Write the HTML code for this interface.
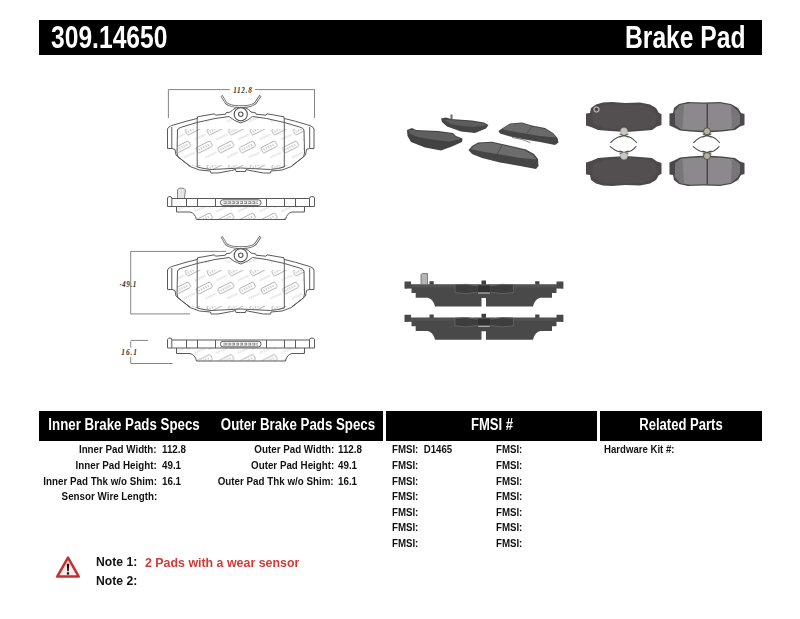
<!DOCTYPE html>
<html><head><meta charset="utf-8">
<style>
html,body{margin:0;padding:0;background:#fff;}
body{width:800px;height:619px;position:relative;overflow:hidden;font-family:"Liberation Sans",sans-serif;}
.t{position:absolute;white-space:nowrap;font-weight:bold;color:#111;}
.bar{position:absolute;background:#000;}
.w{color:#fff;}
.s11{font-size:11.8px;line-height:11.8px;}
.l{transform-origin:left center;}
.r{transform-origin:right center;}
.c{transform-origin:center center;}
svg{position:absolute;left:0;top:0;}
</style></head><body>

<!-- top bar -->
<div class="bar" style="left:39px;top:20px;width:723px;height:35px;"></div>
<div class="t w l" style="left:51px;top:21px;font-size:32px;line-height:32px;transform:scaleX(0.77);">309.14650</div>
<div class="t w r" style="right:54px;top:21px;font-size:32px;line-height:32px;transform:scaleX(0.77);">Brake Pad</div>

<!-- table headers -->
<div class="bar" style="left:39px;top:411px;width:344px;height:30px;"></div>
<div class="bar" style="left:386px;top:411px;width:211px;height:30px;"></div>
<div class="bar" style="left:600px;top:411px;width:162px;height:30px;"></div>
<div class="t w c" style="left:-26px;width:300px;text-align:center;top:416.5px;font-size:16px;line-height:16px;transform:scaleX(0.83);">Inner Brake Pads Specs</div>
<div class="t w c" style="left:148px;width:300px;text-align:center;top:416.5px;font-size:16px;line-height:16px;transform:scaleX(0.83);">Outer Brake Pads Specs</div>
<div class="t w c" style="left:342px;width:300px;text-align:center;top:416.5px;font-size:16px;line-height:16px;transform:scaleX(0.815);">FMSI #</div>
<div class="t w c" style="left:531px;width:300px;text-align:center;top:416.5px;font-size:16px;line-height:16px;transform:scaleX(0.815);">Related Parts</div>

<!-- inner specs -->
<div class="t s11 r" style="right:643px;top:444.11px;transform:scaleX(0.830);">Inner Pad Width:</div>
<div class="t s11 r" style="right:643px;top:459.91px;transform:scaleX(0.830);">Inner Pad Height:</div>
<div class="t s11 r" style="right:643px;top:475.61px;transform:scaleX(0.830);">Inner Pad Thk w/o Shim:</div>
<div class="t s11 r" style="right:643px;top:491.41px;transform:scaleX(0.830);">Sensor Wire Length:</div>
<div class="t s11 l" style="left:162px;top:444.11px;transform:scaleX(0.830);">112.8</div>
<div class="t s11 l" style="left:162px;top:459.91px;transform:scaleX(0.830);">49.1</div>
<div class="t s11 l" style="left:162px;top:475.61px;transform:scaleX(0.830);">16.1</div>
<!-- outer specs -->
<div class="t s11 r" style="right:466px;top:444.11px;transform:scaleX(0.830);">Outer Pad Width:</div>
<div class="t s11 r" style="right:466px;top:459.91px;transform:scaleX(0.830);">Outer Pad Height:</div>
<div class="t s11 r" style="right:466px;top:475.61px;transform:scaleX(0.830);">Outer Pad Thk w/o Shim:</div>
<div class="t s11 l" style="left:338px;top:444.11px;transform:scaleX(0.830);">112.8</div>
<div class="t s11 l" style="left:338px;top:459.91px;transform:scaleX(0.830);">49.1</div>
<div class="t s11 l" style="left:338px;top:475.61px;transform:scaleX(0.830);">16.1</div>
<!-- FMSI -->
<div class="t s11 l" style="left:392px;top:444.11px;transform:scaleX(0.820);">FMSI:&nbsp; D1465</div>
<div class="t s11 l" style="left:392px;top:459.91px;transform:scaleX(0.820);">FMSI:</div>
<div class="t s11 l" style="left:392px;top:475.61px;transform:scaleX(0.820);">FMSI:</div>
<div class="t s11 l" style="left:392px;top:491.41px;transform:scaleX(0.820);">FMSI:</div>
<div class="t s11 l" style="left:392px;top:506.81px;transform:scaleX(0.820);">FMSI:</div>
<div class="t s11 l" style="left:392px;top:522.31px;transform:scaleX(0.820);">FMSI:</div>
<div class="t s11 l" style="left:392px;top:538.01px;transform:scaleX(0.820);">FMSI:</div>
<div class="t s11 l" style="left:496px;top:444.11px;transform:scaleX(0.820);">FMSI:</div>
<div class="t s11 l" style="left:496px;top:459.91px;transform:scaleX(0.820);">FMSI:</div>
<div class="t s11 l" style="left:496px;top:475.61px;transform:scaleX(0.820);">FMSI:</div>
<div class="t s11 l" style="left:496px;top:491.41px;transform:scaleX(0.820);">FMSI:</div>
<div class="t s11 l" style="left:496px;top:506.81px;transform:scaleX(0.820);">FMSI:</div>
<div class="t s11 l" style="left:496px;top:522.31px;transform:scaleX(0.820);">FMSI:</div>
<div class="t s11 l" style="left:496px;top:538.01px;transform:scaleX(0.820);">FMSI:</div>
<!-- related -->
<div class="t s11 l" style="left:604px;top:444.11px;transform:scaleX(0.815);">Hardware Kit #:</div>

<!-- notes -->
<svg width="800" height="619" style="left:0;top:0">
  <polygon points="68,557.6 57.2,576.6 78.8,576.6" fill="#fbeaea" stroke="#c3302d" stroke-width="2.5" stroke-linejoin="round"/>
  <path d="M66.7,563.8 L69.3,563.8 L68.7,571.3 L67.3,571.3 Z" fill="#111"/>
  <rect x="66.9" y="572.3" width="2.2" height="2.3" fill="#111"/>
</svg>
<div class="t l" style="left:95.6px;top:555.3px;font-size:13.5px;line-height:13.5px;transform:scaleX(0.9);">Note 1:</div>
<div class="t l" style="left:95.6px;top:573.8px;font-size:13.5px;line-height:13.5px;transform:scaleX(0.9);">Note 2:</div>
<div class="t l" style="left:144.6px;top:556.3px;font-size:13.5px;line-height:13.5px;color:#d03936;transform:scaleX(0.918);">2 Pads with a wear sensor</div>

<!-- DRAWINGS -->
<svg width="800" height="619" viewBox="0 0 800 619">
<defs>
  <clipPath id="fric">
    <path d="M177.5,130 Q178,128 182,127 L197,122.5 L229,116.5 L234,121.5 Q240.75,125 247.5,121.5 L252.5,116.5 L284.5,122.5 L299.5,127 Q303.5,128 304,130 L304.5,151 Q304,156 296,164 L283,168.5 L270.5,169.5 L240.75,168.5 L211,169.5 L198.5,168.5 L185.5,164 Q177.5,156 177,151 Z"/>
  </clipPath>
  <pattern id="wmp" patternUnits="userSpaceOnUse" x="204" y="129" width="21.6" height="36">
    <g fill="none" stroke="#a9a9a9" stroke-width="0.8">
      <g transform="translate(11,0) rotate(-27)"><rect x="-8" y="-3" width="16" height="6" rx="1.2"/><path d="M-5.5,-1.2 L-5.5,1.2 M-3,-1.2 L-3,1.2 M-0.5,-1.2 L-0.5,1.2 M2,-1.2 L2,1.2 M4.5,-1.2 L4.5,1.2" stroke-width="1.1" stroke="#c4c4c4"/></g>
      <g transform="translate(0.2,18) rotate(-27)"><rect x="-8" y="-3" width="16" height="6" rx="1.2"/><path d="M-5.5,-1.2 L-5.5,1.2 M-3,-1.2 L-3,1.2 M-0.5,-1.2 L-0.5,1.2 M2,-1.2 L2,1.2 M4.5,-1.2 L4.5,1.2" stroke-width="1.1" stroke="#c4c4c4"/></g>
      <g transform="translate(21.8,18) rotate(-27)"><rect x="-8" y="-3" width="16" height="6" rx="1.2"/><path d="M-5.5,-1.2 L-5.5,1.2 M-3,-1.2 L-3,1.2 M-0.5,-1.2 L-0.5,1.2 M2,-1.2 L2,1.2 M4.5,-1.2 L4.5,1.2" stroke-width="1.1" stroke="#c4c4c4"/></g>
      <g stroke="#d2d2d2" stroke-width="0.9">
        <path d="M12.5,10.5 L23,5.5 M1.7,28.5 L12.2,23.5 M-9.1,10.5 L1.4,5.5" stroke-dasharray="1.4 0.7" stroke-width="2.2" stroke="#e2e2e2"/>
      </g>
    </g>
  </pattern>
  <pattern id="wmp2" patternUnits="userSpaceOnUse" x="180" y="206" width="24" height="14">
    <g fill="none" stroke="#c2c2c2" stroke-width="0.9"><path d="M3,12 L8,4 L12,12 M14,11 Q18,5 21,9"/></g>
  </pattern>
  <g id="wm"><rect x="160" y="100" width="160" height="80" fill="url(#wmp)"/></g>
  <g id="front">
    <g clip-path="url(#fric)"><use href="#wm"/></g>
    <g fill="none" stroke="#5a5a5a" stroke-width="1" stroke-linejoin="round">
      <!-- left half -->
      <path id="halfL" d="M233,109.5 L230.5,112 L226,112.8 L225.5,114.2 L215.5,115.2 L214.5,113.8 L197.5,116.8 L197.5,118.4 L186,121.3 L171.5,125.6 Q168,126.8 167.5,129 L167.5,148.5 L172,148.5 L175,149.5 L176,155 L190,166.5 L199.5,170 L210.5,171 L211,173 L218,173 L231.5,170.5 L235.5,169.5 L236,171.5 L240.75,171.5
        M171.8,127 L171.8,148.5
        M177.5,130 Q178,128 182,127 L197,122.5 L215,118.5 L229,116.5 Q234,121 240.75,123
        M177.5,130 L177,153 L178,157 L190,166 M197.2,118 L197.2,167 L204,168.5 L211,169.5 L231,168.5 L240.75,168"/>
      <g transform="translate(481.5,0) scale(-1,1)">
        <path d="M233,109.5 L230.5,112 L226,112.8 L225.5,114.2 L215.5,115.2 L214.5,113.8 L197.5,116.8 L197.5,118.4 L186,121.3 L171.5,125.6 Q168,126.8 167.5,129 L167.5,148.5 L172,148.5 L175,149.5 L176,155 L190,166.5 L199.5,170 L210.5,171 L211,173 L218,173 L231.5,170.5 L235.5,169.5 L236,171.5 L240.75,171.5
        M171.8,127 L171.8,148.5
        M177.5,130 Q178,128 182,127 L197,122.5 L215,118.5 L229,116.5 Q234,121 240.75,123
        M177.5,130 L177,153 L178,157 L190,166 M197.2,118 L197.2,167 L204,168.5 L211,169.5 L231,168.5 L240.75,168"/>
      </g>
      <path d="M233,109.5 Q240.75,104 248.5,109.5"/>
      <circle cx="240.75" cy="114.25" r="6.6" fill="#fff" stroke="#555" stroke-width="1.1"/>
      <circle cx="240.75" cy="114.25" r="2.2" stroke="#555" stroke-width="1.1"/>
      <path d="M221.5,95.5 L226,103 Q231,107 240.75,106.5 Q250.5,107 255.5,103 L260.5,95.5" stroke="#666" stroke-width="2.4"/>
      <path d="M221.5,95.5 L226,103 Q231,107 240.75,106.5 Q250.5,107 255.5,103 L260.5,95.5" stroke="#fff" stroke-width="0.9"/>
    </g>
  </g>
  <g id="side" fill="none" stroke="#5a5a5a" stroke-width="1" stroke-linejoin="round">
    <clipPath id="sfric"><path d="M176.5,206.5 L176.5,212 L190,212 Q195,213 196.5,219.5 L285.5,219.5 Q287,213 292,212 L304.5,212 L304.5,206.5 Z"/></clipPath>
    <g clip-path="url(#sfric)" stroke="none"><rect x="170" y="200" width="140" height="25" fill="url(#wmp)"/></g>
    <path d="M176.5,206.5 L176.5,212 L190,212 Q195,213 196.5,219.5 L285.5,219.5 Q287,213 292,212 L304.5,212 L304.5,206.5"/>
    <path d="M167.5,206.5 L167.5,198 Q168,196.5 170,196.5 Q171.8,196.5 171.8,198.5 L309.5,198.5 Q309.5,196.5 311.8,196.5 Q314.5,196.5 314.5,198 L314.5,206.5 Z" fill="#fff"/>
    <path d="M171.8,198.5 L171.8,206.5 M186.5,198.5 L186.5,206.5 M197.5,198.5 L197.5,206.5 M215.5,198.5 L215.5,206.5 M266.5,198.5 L266.5,206.5 M284.5,198.5 L284.5,206.5 M295.5,198.5 L295.5,206.5 M309.5,198.5 L309.5,206.5"/>
    <rect x="220.5" y="199.8" width="40.5" height="5.6" rx="2.5"/>
    <path d="M223.5,202.6 L258,202.6" stroke="#888" stroke-width="2.6" stroke-dasharray="3.2 0.9"/><path d="M223.5,202.6 L258,202.6" stroke="#fff" stroke-width="0.9" stroke-dasharray="2 2.1"/>
  </g>
</defs>

<use href="#front"/>
<use href="#front" y="141"/>
<use href="#side"/>
<use href="#side" y="141.5"/>
<!-- sensor tab on first side view -->
<path d="M177.5,198 L177.5,190 Q178,188 181,188 Q185,188 185.5,190 L184.5,198" fill="#e6e6e6" stroke="#777" stroke-width="0.9"/>

<!-- dimension 112.8 -->
<g stroke="#777" stroke-width="0.9" fill="none">
  <path d="M168.4,89.5 L168.4,118 M314.5,89.5 L314.5,118 M168.4,89.6 L229.8,89.6 M255,89.6 L314.5,89.6"/>
  <!-- 49.1 -->
  <path d="M130.7,251.4 L226,251.4 M130.7,313.9 L190,313.9 M130.7,251.4 L130.7,313.9"/>
  <!-- 16.1 -->
  <path d="M130.7,340.4 L148.2,340.4 M130.7,363.5 L172.6,363.5 M130.7,341.5 L130.7,347.5 M130.7,357 L130.7,363"/>
</g>
<g font-family="Liberation Serif" font-style="italic" font-weight="bold" fill="#333">
  <text x="242.8" y="92.9" font-size="7.2" text-anchor="middle" letter-spacing="0.7">112.8</text>
  <text x="128.3" y="287.2" font-size="7.2" text-anchor="middle" letter-spacing="0.6">·49.1</text>
  <text x="129.6" y="355.2" font-size="7.4" text-anchor="middle" letter-spacing="0.9">16.1</text>
</g>
</svg>

<!-- PHOTOS -->
<svg width="800" height="619" viewBox="0 0 800 619">
<defs>
  <filter id="bl" x="-10%" y="-10%" width="120%" height="120%"><feGaussianBlur stdDeviation="0.5"/></filter>
  <g id="darkpad">
    <path d="M586,113.5 L590,113 L591,108 L596,104.5 L603,102.5 L612,102 L625,103 L640,102.5 L650,104.5 L656,108 L659,113 L661.5,114 L661.5,125 L657,126.5 L652,130 L640,131 L626,132 L610,131 L598,130 L591,127 L586,125.5 Z" fill="#4b484a"/>
    <path d="M592,112 L600,106 L612,104 L640,104.5 L652,108 L657,115 L656,124 L646,129 L626,130 L604,128.5 L593,124 Z" fill="#524f51"/>
    </g>
  <g id="graypad">
    <path d="M669.5,113.5 L673,113 L674,108 L679,104 L688,102 L704,102.5 L720,102 L731,104 L738,108 L741,113 L744.5,114 L744.5,125 L740,126.5 L735,130 L722,131.5 L707,132.5 L690,131.5 L680,130.5 L674,127.5 L669.5,125.5 Z" fill="#4a494a"/>
    <path d="M674.8,111.5 L680,105 L690,103.2 L705,103.8 L720,103.2 L730.5,105 L737.5,111 L739.8,115 L739.8,124 L733,129 L720,130.3 L707,130.8 L692,130.3 L681,129.3 L675.5,125 Z" fill="#8b898b"/>
    <path d="M674.8,111.5 L680,105 L684,104.5 L682.5,129.5 L676,125 Z M739.8,115 L737.5,111 L731,105 L732,129 L739.8,124 Z" fill="#777577"/>
    <path d="M707.2,103.8 L707.2,130" stroke="#3a3a3a" stroke-width="1.2"/>
  </g>
</defs>
<!-- top-center scattered photo -->
<g filter="url(#bl)">
  <!-- pad A -->
  <path d="M407,130 L412,128 L416,130 L438,131 L453,133 L456,136 L462.5,138.5 L462,142 L452,146.5 L441,150.5 L425,147.5 L411,142 L407.5,136 Z" fill="#434343"/>
  <path d="M408.5,130.5 L414,129.5 L416.5,131 L438,132 L453,134 L456,137 L461.5,139 L449,141.5 L435,140 L418,137 L410,134 Z" fill="#5e5e5e"/>
  <!-- pad B -->
  <path d="M441,118.5 L446,117.5 L451,119 L472,120.5 L484,122.5 L488.5,125 L486,128.5 L475,133 L461,131.5 L447,126.5 L442,122 Z" fill="#444"/>
  <path d="M443,119.5 L451,120 L472,121.5 L484,123.5 L487,125.5 L472,127 L452,124.5 Z" fill="#5d5d5d"/>
  <rect x="450.5" y="114.5" width="2" height="5" fill="#666"/>
  <!-- pad C -->
  <path d="M498.5,131 L502,128.5 L510,123.5 L522,122.5 L532,125.5 L545,128 L553,133 L557.5,138 L558.5,142.5 L555,145 L540,142 L525,139.5 L510,136.5 L500,133.5 Z" fill="#444"/>
  <path d="M502,129 L510,124.2 L522,123.2 L532,126.5 L545,129 L553,134 L556,137.5 L540,136 L525,133.5 L510,131 Z" fill="#6b6b6b"/>
  <path d="M532,126.5 L527,133.3" stroke="#4a4a4a" stroke-width="0.9"/>
  <path d="M512,137.5 L522,139.5 L530,142.5" stroke="#666" stroke-width="0.8" fill="none"/>
  <!-- pad D -->
  <path d="M468.5,150 L472,146 L478,142.5 L492,141.8 L509,145.5 L526,149.5 L534,154 L538,159 L538.5,166 L536,169 L520,166 L500,162.5 L482,158 L472,154 Z" fill="#444"/>
  <path d="M470,149 L478,143.5 L492,142.8 L509,146.5 L525,150.5 L533,155 L536.5,159.5 L520,158 L500,154.5 L482,151.5 Z" fill="#6c6c6c"/>
  <path d="M502,145.2 L497,154.2" stroke="#4a4a4a" stroke-width="0.9"/>
</g>

<!-- right photo: 4 pads with clips -->
<g filter="url(#bl)">
  <use href="#darkpad"/>
  <use href="#darkpad" transform="translate(0,288) scale(1,-1)"/>
  <use href="#graypad"/>
  <use href="#graypad" transform="translate(0,288) scale(1,-1)"/>
</g>
<circle cx="596.5" cy="109.5" r="2.6" fill="none" stroke="#d8d8d8" stroke-width="1"/>
<g fill="none" stroke="#505050" stroke-width="1.1" stroke-linecap="round">
  <path d="M610.7,142.5 Q617,136 624,135.8 Q631,136 636.5,142.5 M610.2,146.6 Q617,152.5 624,152.3 Q631,152.5 636,146.6 M620,134 L628,137 M628,134 L620,137 M620,151 L628,154 M628,151 L620,154"/>
  <path d="M693.7,142.5 Q700,136 707,135.8 Q714,136 719.5,142.5 M693.2,146.6 Q700,152.5 707,152.3 Q714,152.5 719,146.6 M703,134 L711,137 M711,134 L703,137 M703,151 L711,154 M711,151 L703,154"/>
</g>
<circle cx="624" cy="131.3" r="3.5" fill="#c9c9c4" stroke="#9a9a94" stroke-width="0.6"/>
<circle cx="624" cy="156" r="3.5" fill="#c9c9c4" stroke="#9a9a94" stroke-width="0.6"/>
<circle cx="707" cy="131.3" r="3.5" fill="#b3b39f" stroke="#4a4a40" stroke-width="0.9"/>
<circle cx="707" cy="156" r="3.5" fill="#b3b39f" stroke="#4a4a40" stroke-width="0.9"/>

<!-- side view photos -->
<g id="sidephoto" filter="url(#bl)">
  <path d="M404.5,281.5 L411,281.5 L411,284.3 L556.5,284.3 L556.5,281.5 L563.4,281.5 L563.4,288.8 L556.5,288.5 L556.5,293 L552,293 L552,297.8 L540.2,297.8 Q535,299 532.9,306.5 L486,306.5 L486,298 L481.5,298 L481.5,306.5 L435.1,306.5 Q433,299 427.8,297.8 L415.7,297.8 L415.7,293 L411.5,293 L411.5,288.5 L404.5,288.8 Z" fill="#4a4a4a"/>
  <path d="M411,285 L556.5,285 L556.5,287.5 L411,287.5 Z" fill="#535353"/>
  <path d="M455,284.8 Q466,283.2 478,286 L478,292 Q466,295 455,292.5 Z M490,286 Q502,283.2 513.5,284.8 L513.5,292.5 Q502,295 490,292 Z" fill="#3c3c3c" stroke="#6a6a6a" stroke-width="0.8"/>
  <rect x="477.5" y="285.5" width="13" height="8" fill="#333"/>
  <rect x="478" y="292.3" width="12" height="1.4" fill="#a8a8a8"/>
  <rect x="481.5" y="280.5" width="4.5" height="4" fill="#3d3d3d"/>
  <rect x="535.2" y="281.2" width="4.2" height="3.4" fill="#444"/>
  <rect x="429.5" y="281.2" width="4.2" height="3.4" fill="#444"/>
</g>
<use href="#sidephoto" y="33.3"/>
<path d="M421,284 L421,274.5 Q421,273.5 424,273.5 L427.5,273.5 L427.5,284" fill="#b5b5b5" stroke="#666" stroke-width="0.8"/>
</svg>

<!-- /PHOTOS -->
</body></html>
